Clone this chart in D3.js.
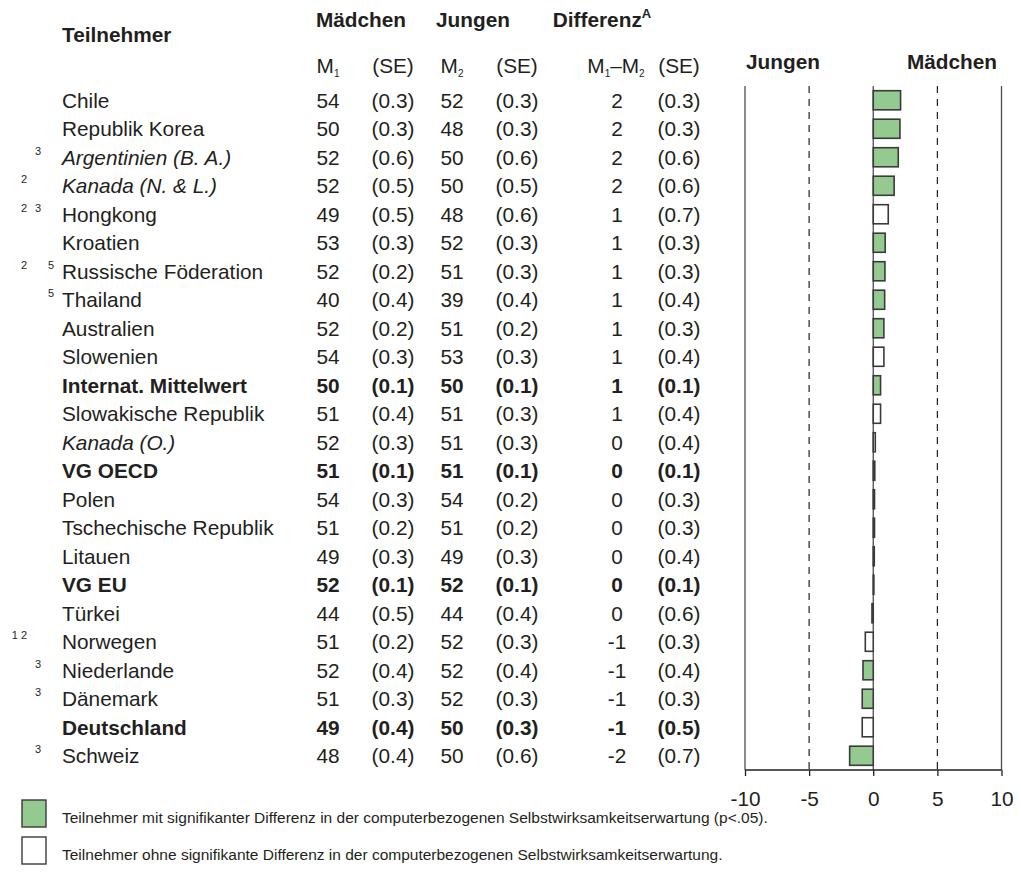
<!DOCTYPE html>
<html>
<head>
<meta charset="utf-8">
<script src="https://cdn.jsdelivr.net/npm/d3@7"></script>
<style>
  html, body { margin: 0; padding: 0; background: #fff; }
  svg { display: block; font-family: "Liberation Sans", Arial, sans-serif; }
</style>
</head>
<body>
<svg id="chart" width="1021" height="884"></svg>
<script>
// Participants, top to bottom
const participants = [
  "Chile", "Republik Korea", "Argentinien (B. A.)", "Kanada (N. & L.)", "Hongkong",
  "Kroatien", "Russische Föderation", "Thailand", "Australien", "Slowenien",
  "Internat. Mittelwert", "Slowakische Republik", "Kanada (O.)", "VG OECD", "Polen",
  "Tschechische Republik", "Litauen", "VG EU", "Türkei", "Norwegen",
  "Niederlande", "Dänemark", "Deutschland", "Schweiz"
];
// Footnote markers before the names: [outer, inner]
const footnotes = [
  ["", ""], ["", ""], ["", "3"], ["2", ""], ["2", "3"],
  ["", ""], ["2", "5"], ["", "5"], ["", ""], ["", ""],
  ["", ""], ["", ""], ["", ""], ["", ""], ["", ""],
  ["", ""], ["", ""], ["", ""], ["", ""], ["1 2", ""],
  ["", "3"], ["", "3"], ["", ""], ["", "3"]
];
// n = normal, i = italic, b = bold
const nameStyle = [
  "n", "n", "i", "i", "n", "n", "n", "n", "n", "n",
  "b", "n", "i", "b", "n", "n", "n", "b", "n", "n",
  "n", "n", "b", "n"
];
const girlsMean = [54, 50, 52, 52, 49, 53, 52, 40, 52, 54, 50, 51, 52, 51, 54, 51, 49, 52, 44, 51, 52, 51, 49, 48];
const girlsSE   = [0.3, 0.3, 0.6, 0.5, 0.5, 0.3, 0.2, 0.4, 0.2, 0.3, 0.1, 0.4, 0.3, 0.1, 0.3, 0.2, 0.3, 0.1, 0.5, 0.2, 0.4, 0.3, 0.4, 0.4];
const boysMean  = [52, 48, 50, 50, 48, 52, 51, 39, 51, 53, 50, 51, 51, 51, 54, 51, 49, 52, 44, 52, 52, 52, 50, 50];
const boysSE    = [0.3, 0.3, 0.6, 0.5, 0.6, 0.3, 0.3, 0.4, 0.2, 0.3, 0.1, 0.3, 0.3, 0.1, 0.2, 0.2, 0.3, 0.1, 0.4, 0.3, 0.4, 0.3, 0.3, 0.6];
// Unrounded difference M1 - M2 (bar length); the table shows it rounded
const diffValue = [2.13, 2.08, 1.95, 1.63, 1.17, 0.93, 0.91, 0.89, 0.83, 0.83,
                   0.57, 0.57, 0.16, 0.12, 0.1, 0.1, 0.08, 0.05, -0.1, -0.62,
                   -0.8, -0.86, -0.86, -1.84];
const diffSE    = [0.3, 0.3, 0.6, 0.6, 0.7, 0.3, 0.3, 0.4, 0.3, 0.4, 0.1, 0.4, 0.4, 0.1, 0.3, 0.3, 0.4, 0.1, 0.6, 0.3, 0.4, 0.3, 0.5, 0.7];
const significant = [true, true, true, true, false, true, true, true, true, false,
                     true, false, false, false, false, false, false, false, false, false,
                     true, true, false, true];
const axisTicks = [-10, -5, 0, 5, 10];
const legendLabels = [
  "Teilnehmer mit signifikanter Differenz in der computerbezogenen Selbstwirksamkeitserwartung (p<.05).",
  "Teilnehmer ohne signifikante Differenz in der computerbezogenen Selbstwirksamkeitserwartung."
];

const GREEN = "#94c98f";
const INK = "#231f20";
const FS = 20.8;

const svg = d3.select("#chart");

const y = d3.scaleBand().domain(participants).range([86, 770]).paddingInner(0.33).paddingOuter(0.165);
const yc = name => y(name) + y.bandwidth() / 2;
const x = d3.scaleLinear().domain([-10, 10]).range([745, 1001.5]);

const fmtSE = v => "(" + v.toFixed(1) + ")";
const fmtInt = v => String(Math.round(v) || 0);

// ---- header ----
const head = svg.append("g").attr("fill", INK);
head.append("text").attr("x", 62).attr("y", 42).attr("font-size", FS).attr("font-weight", "bold").text("Teilnehmer");
head.append("text").attr("x", 361).attr("y", 27).attr("text-anchor", "middle").attr("font-size", FS).attr("font-weight", "bold").text("Mädchen");
head.append("text").attr("x", 473).attr("y", 27).attr("text-anchor", "middle").attr("font-size", FS).attr("font-weight", "bold").text("Jungen");
const dh = head.append("text").attr("x", 602).attr("y", 27).attr("text-anchor", "middle").attr("font-size", FS).attr("font-weight", "bold");
dh.append("tspan").text("Differenz");
dh.append("tspan").attr("font-size", 13).attr("dy", -9).text("A");

function mSub(g, xPos, parts) {
  const t = g.append("text").attr("x", xPos).attr("y", 73).attr("text-anchor", "middle").attr("font-size", FS);
  parts.forEach(p => {
    if (p.sub) t.append("tspan").attr("font-size", 10).attr("dy", 4).text(p.t);
    else t.append("tspan").attr("dy", p.up ? -4 : 0).text(p.t);
  });
}
mSub(head, 328, [{t: "M"}, {t: "1", sub: true}]);
head.append("text").attr("x", 393).attr("y", 73).attr("text-anchor", "middle").attr("font-size", FS).text("(SE)");
mSub(head, 452, [{t: "M"}, {t: "2", sub: true}]);
head.append("text").attr("x", 517).attr("y", 73).attr("text-anchor", "middle").attr("font-size", FS).text("(SE)");
mSub(head, 616, [{t: "M"}, {t: "1", sub: true}, {t: "–M", up: true}, {t: "2", sub: true}]);
head.append("text").attr("x", 679).attr("y", 73).attr("text-anchor", "middle").attr("font-size", FS).text("(SE)");
head.append("text").attr("x", 783).attr("y", 69).attr("text-anchor", "middle").attr("font-size", FS).attr("font-weight", "bold").text("Jungen");
head.append("text").attr("x", 952).attr("y", 69).attr("text-anchor", "middle").attr("font-size", FS).attr("font-weight", "bold").text("Mädchen");

// ---- table rows ----
const rows = svg.append("g").attr("fill", INK).attr("font-size", FS)
  .selectAll("g").data(participants).join("g")
  .attr("transform", d => `translate(0,${yc(d) + 7.5})`)
  .attr("font-weight", (d, i) => nameStyle[i] === "b" ? "bold" : "normal");

rows.append("text").attr("x", 62)
  .attr("font-style", (d, i) => nameStyle[i] === "i" ? "italic" : "normal")
  .text(d => d);
// outer markers right-aligned, inner markers just before the name
rows.append("text").attr("x", 27).attr("y", -10).attr("text-anchor", "end")
  .attr("font-size", 11).attr("font-weight", "normal")
  .text((d, i) => footnotes[i][0]);
rows.append("text").attr("x", 35).attr("y", -10).attr("font-size", 11).attr("font-weight", "normal")
  .attr("dx", (d, i) => footnotes[i][1] === "5" ? 13 : 0)
  .text((d, i) => footnotes[i][1]);

const cols = [
  {x: 328, v: i => String(girlsMean[i])},
  {x: 393, v: i => fmtSE(girlsSE[i])},
  {x: 452, v: i => String(boysMean[i])},
  {x: 517, v: i => fmtSE(boysSE[i])},
  {x: 617, v: i => fmtInt(diffValue[i])},
  {x: 679, v: i => fmtSE(diffSE[i])}
];
cols.forEach(c => {
  rows.append("text").attr("x", c.x).attr("text-anchor", "middle").text((d, i) => c.v(i));
});

// ---- bar panel ----
const panel = svg.append("g");
const panelTop = 86, panelBottom = 770;
[-10, 0, 10].forEach(v => {
  panel.append("line").attr("x1", x(v)).attr("x2", x(v)).attr("y1", panelTop).attr("y2", panelBottom)
    .attr("stroke", "#4d4d4d").attr("stroke-width", 1.3);
});
[-5, 5].forEach(v => {
  panel.append("line").attr("x1", x(v)).attr("x2", x(v)).attr("y1", panelTop).attr("y2", panelBottom)
    .attr("stroke", "#231f20").attr("stroke-width", 1.2).attr("stroke-dasharray", "7,6");
});

panel.append("g").selectAll("rect").data(participants).join("rect")
  .attr("x", (d, i) => x(Math.min(0, diffValue[i])))
  .attr("y", d => y(d))
  .attr("width", (d, i) => Math.abs(x(diffValue[i]) - x(0)))
  .attr("height", y.bandwidth())
  .attr("fill", (d, i) => significant[i] ? GREEN : "#fff")
  .attr("stroke", "#3a3a3a").attr("stroke-width", 1.6);

const axis = d3.axisBottom(x).tickValues(axisTicks).tickSize(6).tickPadding(15)
  .tickFormat(d => String(d));
const ax = svg.append("g").attr("transform", `translate(0,${panelBottom})`).call(axis);
ax.select(".domain").attr("stroke", "#231f20").attr("stroke-width", 1.3).attr("d", `M${x(-10)},0H${x(10)}`);
ax.selectAll(".tick line").attr("stroke", "#231f20").attr("stroke-width", 1.3);
ax.selectAll(".tick text").attr("font-size", FS).attr("fill", INK).attr("font-family", "Liberation Sans, Arial, sans-serif");

// ---- legend ----
const legend = svg.append("g");
legendLabels.forEach((label, i) => {
  const ly = 800 + i * 37;
  legend.append("rect").attr("x", 22).attr("y", ly).attr("width", 24).attr("height", 27)
    .attr("fill", i === 0 ? GREEN : "#fff").attr("stroke", "#3a3a3a").attr("stroke-width", 1.4);
  legend.append("text").attr("x", 62).attr("y", ly + 23).attr("font-size", 15.5).attr("fill", INK).text(label);
});
</script>
</body>
</html>
